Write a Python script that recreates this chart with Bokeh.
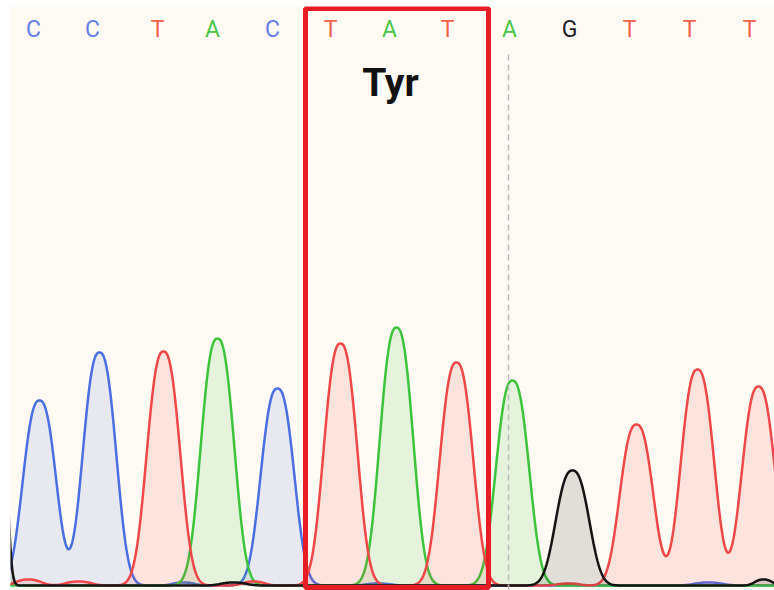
import numpy as np
from bokeh.plotting import figure
from bokeh.models import Range1d, ColumnDataSource
from bokeh.core.properties import value
from bokeh.embed import file_html
from bokeh.resources import INLINE

# ---- data ----
bases = ["C", "C", "T", "A", "C", "T", "A", "T", "A", "G", "T", "T", "T"]
base_pos = [23, 82, 147, 202, 262, 320, 379, 437, 499, 559, 619, 679, 739]
peak_pos = [29, 89, 153, 207, 267, 330, 386, 446, 502, 562, 626, 687, 748]
peak_height = [185, 233, 234, 247, 197, 242, 258, 223, 205, 115, 161, 216, 199]
peak_width = [21, 21, 21, 21, 21, 21, 21, 21, 21, 21, 21, 21, 21]

# small baseline signals per channel: (position, height, width)
minor_peaks = {
    "T": [(18, 6, 16), (68, 4, 16), (243, 4, 14), (558, 2, 14)],
    "C": [(173, 3, 14), (368, 2, 16), (698, 3, 18)],
    "G": [(-12, 285, 9), (223, 3, 16), (753, 6, 11)],
    "A": [],
}

codon_label = "Tyr"
codon_label_x = 380
codon_left = 295
codon_right = 478
cursor_pos = 498

channel_line = {"C": "#4A6FE0", "T": "#F04848", "A": "#3CC43C", "G": "#141414"}
letter_color = {"C": "#6580E8", "T": "#F2604C", "A": "#48C848", "G": "#1E1E28"}

# ---- figure ----
p = figure(width=774, height=590, output_backend="svg", toolbar_location=None,
           x_range=Range1d(0, 764), y_range=Range1d(-5, 579),
           min_border_left=10, min_border_top=6, min_border_right=0,
           min_border_bottom=0, background_fill_color="#FFFBF4",
           border_fill_color="white", outline_line_color=None)
p.axis.visible = False
p.grid.visible = False

x = np.arange(-2, 766, 1.0)
for ch in ["C", "A", "T", "G"]:
    y = np.zeros_like(x)
    for b, pp, ph, pw in zip(bases, peak_pos, peak_height, peak_width):
        if b == ch:
            y += ph * np.exp(-(np.abs(x - pp) / pw) ** 2.5)
    for pp, ph, pw in minor_peaks[ch]:
        y += ph * np.exp(-(np.abs(x - pp) / pw) ** 2.5)
    xs = np.concatenate([[x[0]], x, [x[-1]]])
    ys = np.concatenate([[0], y, [0]])
    p.patch(xs, ys, fill_color=channel_line[ch], fill_alpha=0.13, line_color=None)
    ch_src = ColumnDataSource(dict(x=x, y=y))
    p.line("x", "y", source=ch_src, line_color=channel_line[ch], line_width=2.5)

# cursor dashed line
p.segment(x0=[cursor_pos], y0=[-5], x1=[cursor_pos], y1=[535],
          line_color="#BBBBBB", line_width=1.5, line_dash="6 4")

# codon box
p.quad(left=[codon_left], right=[codon_right], top=[577], bottom=[-2],
       fill_color=None, line_color="#E81C24", line_width=5)

# base letters
src = ColumnDataSource(dict(x=base_pos, y=[556] * len(bases), t=bases,
                            c=[letter_color[b] for b in bases]))
p.text(x="x", y="y", text="t", source=src, text_color="c",
       text_font=value("Roboto"), text_font_size="23px",
       text_align="center", text_baseline="middle")

p.text(x=[codon_label_x], y=[503], text=[codon_label],
       text_font=value("Roboto"), text_font_style="bold", text_font_size="39px",
       text_color="#111111", text_align="center", text_baseline="middle")

open("out.html", "w").write(file_html(p, INLINE))
